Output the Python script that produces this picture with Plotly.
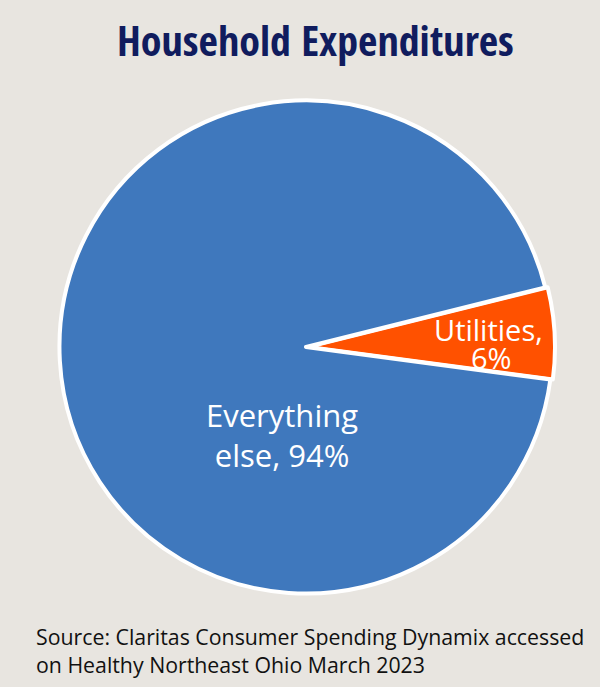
import plotly.graph_objects as go

# data
labels = ["Utilities", "Everything else"]
values = [6, 94]
colors = ["#FF5100", "#3F78BD"]

W, H = 600, 687
cx, cy, half = 306, 347, 249  # pie centre and domain half-size in px

fig = go.Figure(go.Pie(
    labels=labels, values=values, sort=False,
    direction="clockwise", rotation=76,
    pull=[0.01, 0],
    marker=dict(colors=colors, line=dict(color="white", width=4)),
    textinfo="none", hoverinfo="label+percent",
    domain=dict(x=[(cx - half) / W, (cx + half) / W],
                y=[(H - cy - half) / H, (H - cy + half) / H]),
    showlegend=False,
))


def note(x, y, text, size, color="white", family="Open Sans, sans-serif",
         xanchor="center", align="center"):
    fig.add_annotation(x=x / W, y=1 - y / H, xref="paper", yref="paper",
                       xanchor=xanchor, yanchor="middle",
                       text=text, showarrow=False, align=align,
                       font=dict(family=family, size=size, color=color))


# slice labels
note(282, 435, f"Everything<br>else, {values[1]}%", 31)
note(489, 329, "Utilities,", 29)
note(491, 357, f"{values[0]}%", 29)

note(316, 39, "<b>Household Expenditures</b>", 42, color="#101C5E",
     family="Open Sans Condensed, Roboto Condensed, sans-serif")
note(34, 650, "Source: Claritas Consumer Spending Dynamix accessed<br>"
     "on Healthy Northeast Ohio March 2023", 21.3,
     color="#111111", xanchor="left", align="left")

fig.update_layout(width=W, height=H, margin=dict(l=0, r=0, t=0, b=0, autoexpand=False),
                  paper_bgcolor="#E8E5E0", plot_bgcolor="#E8E5E0")
fig.write_html("out.html", config={"displayModeBar": False},
               post_script="document.body.style.margin='0';")
